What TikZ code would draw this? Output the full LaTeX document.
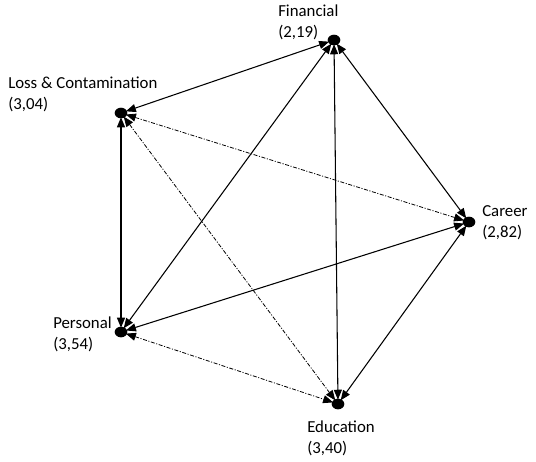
\documentclass[tikz,border=0pt]{standalone}
\usepackage{fontspec}
\setmainfont{Carlito}
\usetikzlibrary{arrows.meta,shapes.geometric}
\begin{document}
\begin{tikzpicture}[x=0.75pt,y=-0.75pt,
  dot/.style={ellipse,fill=black,inner sep=0pt,minimum width=9.5pt,minimum height=8pt},
  lbl/.style={anchor=west,align=left,inner sep=0pt,font=\fontsize{12.6pt}{15.75pt}\selectfont},
  link/.style={line width=0.8pt,{Triangle[length=7.5pt,width=6pt]}-{Triangle[length=7.5pt,width=6pt]},shorten <=-1pt,shorten >=-1pt},
  dlink/.style={link,line width=0.6pt,dash pattern=on 3pt off 1.2pt on 0.8pt off 1.2pt}]
\useasboundingbox (0,0) rectangle (536,461);
\node[dot] (F) at (334,40) {};
\node[dot] (L) at (121,113) {};
\node[dot] (C) at (469,222) {};
\node[dot] (P) at (121,332) {};
\node[dot] (E) at (338,404) {};
\node[lbl] (lF) at (278,22) {Financial\\(2,19)};
\node[lbl] (lL) at (8,94) {Loss \& Contamination\\(3,04)};
\node[lbl] (lC) at (482,223) {Career\\(2,82)};
\node[lbl] (lP) at (53,334) {Personal\\(3,54)};
\node[lbl] (lE) at (307,438) {Education\\(3,40)};
\draw[link] (L) -- (F);
\draw[link] (L) -- (P);
\draw[link] (F) -- (P);
\draw[link] (F) -- (E);
\draw[link] (F) -- (C);
\draw[link] (P) -- (C);
\draw[link] (C) -- (E);
\draw[dlink] (L) -- (C);
\draw[dlink] (L) -- (E);
\draw[dlink] (P) -- (E);
\end{tikzpicture}
\end{document}
